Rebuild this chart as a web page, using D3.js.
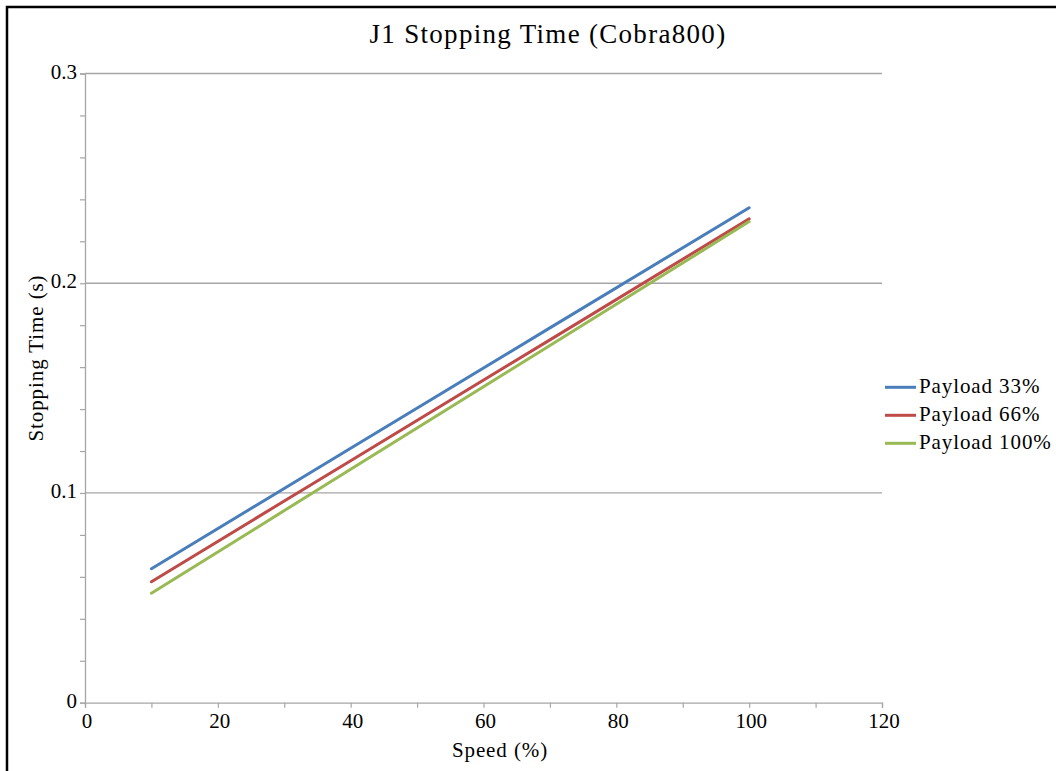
<!DOCTYPE html>
<html>
<head>
<meta charset="utf-8">
<script src="https://cdn.jsdelivr.net/npm/d3@7"></script>
<style>
  body { margin: 0; background: #fff; }
  svg text { font-family: "Liberation Serif", "Times New Roman", serif; fill: #000; }
</style>
</head>
<body>
<div id="chart"></div>
<script>
// data
var speeds = [10, 40, 70, 100];
var payload33 = [0.0639, 0.1213, 0.1787, 0.2360];
var payload66 = [0.0577, 0.1154, 0.1730, 0.2307];
var payload100 = [0.0522, 0.1113, 0.1703, 0.2294];
var seriesNames = ["Payload 33%", "Payload 66%", "Payload 100%"];
var seriesColors = ["#4a7ebb", "#be4b48", "#98b954"];
var xTicks = [0, 20, 40, 60, 80, 100, 120];
var yTicks = [0, 0.1, 0.2, 0.3];

var W = 1056, H = 771;
var plot = {left: 85, right: 882, top: 73.5, bottom: 702.7};

var svg = d3.select("#chart").append("svg")
    .attr("width", W)
    .attr("height", H);

// outer chart border (runs past the window on right / bottom)
svg.append("rect")
    .attr("x", 7).attr("y", 7)
    .attr("width", W + 20).attr("height", H + 20)
    .attr("fill", "none")
    .attr("stroke", "#000")
    .attr("stroke-width", 2.5);

var x = d3.scaleLinear().domain([0, 120]).range([plot.left, plot.right]);
var y = d3.scaleLinear().domain([0, 0.3]).range([plot.bottom, plot.top]);

// horizontal gridlines
svg.append("g")
  .selectAll("line")
  .data(yTicks.filter(function(d) { return d > 0; }))
  .enter().append("line")
    .attr("x1", plot.left).attr("x2", plot.right)
    .attr("y1", function(d) { return y(d); })
    .attr("y2", function(d) { return y(d); })
    .attr("stroke", "#a6a6a6")
    .attr("stroke-width", 1.3);

// y axis, minor ticks every 0.02
var yAxis = svg.append("g")
    .attr("transform", "translate(" + plot.left + ",0)")
    .call(d3.axisLeft(y).tickValues(d3.range(0, 0.3001, 0.02)).tickSize(5).tickFormat(""));
yAxis.select(".domain").attr("stroke", "#a6a6a6").attr("stroke-width", 1.3);
yAxis.selectAll(".tick line").attr("stroke", "#a6a6a6").attr("stroke-width", 1.2);

svg.append("g")
  .selectAll("text")
  .data(yTicks)
  .enter().append("text")
    .attr("x", plot.left - 8)
    .attr("y", function(d) { return y(d) + 5; })
    .attr("text-anchor", "end")
    .style("font-size", "21px")
    .text(function(d) { return d === 0 ? "0" : d3.format(".1f")(d); });

// x axis, minor ticks every 10
var xAxis = svg.append("g")
    .attr("transform", "translate(0," + plot.bottom + ")")
    .call(d3.axisBottom(x).tickValues(d3.range(0, 121, 10)).tickSize(5).tickFormat(""));
xAxis.select(".domain").attr("stroke", "#a6a6a6").attr("stroke-width", 1.3);
xAxis.selectAll(".tick line").attr("stroke", "#a6a6a6").attr("stroke-width", 1.2);

svg.append("g")
  .selectAll("text")
  .data(xTicks)
  .enter().append("text")
    .attr("x", function(d) { return x(d) + 2; })
    .attr("y", 728)
    .attr("text-anchor", "middle")
    .style("font-size", "21px")
    .text(function(d) { return d; });

// series lines
var allSeries = [payload33, payload66, payload100];
var line = d3.line()
    .x(function(d) { return x(d[0]); })
    .y(function(d) { return y(d[1]); });

svg.append("g")
  .selectAll("path")
  .data(allSeries)
  .enter().append("path")
    .attr("d", function(vals) { return line(speeds.map(function(s, i) { return [s, vals[i]]; })); })
    .attr("fill", "none")
    .attr("stroke", function(d, i) { return seriesColors[i]; })
    .attr("stroke-width", 3)
    .attr("stroke-linecap", "round");

// title and axis titles
svg.append("text")
    .attr("x", 548).attr("y", 43)
    .attr("text-anchor", "middle")
    .style("font-size", "27px")
    .style("letter-spacing", "1.3px")
    .text("J1 Stopping Time (Cobra800)");

svg.append("text")
    .attr("x", 500).attr("y", 757)
    .attr("text-anchor", "middle")
    .style("font-size", "21px")
    .style("letter-spacing", "0.9px")
    .text("Speed (%)");

svg.append("text")
    .attr("transform", "translate(43,358) rotate(-90)")
    .attr("text-anchor", "middle")
    .style("font-size", "21px")
    .style("letter-spacing", "0.9px")
    .text("Stopping Time (s)");

// legend
var legend = svg.append("g")
  .selectAll("g")
  .data(seriesNames)
  .enter().append("g")
    .attr("transform", function(d, i) { return "translate(885," + (387.3 + i * 28) + ")"; });

legend.append("line")
    .attr("x1", 0).attr("x2", 31)
    .attr("stroke", function(d, i) { return seriesColors[i]; })
    .attr("stroke-width", 3);

legend.append("text")
    .attr("x", 34)
    .attr("y", 6)
    .style("font-size", "21px")
    .style("letter-spacing", "0.9px")
    .text(function(d) { return d; });
</script>
</body>
</html>
